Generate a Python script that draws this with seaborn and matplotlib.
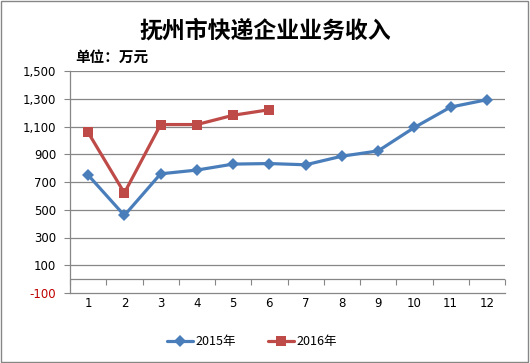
import matplotlib
matplotlib.use("Agg")
import matplotlib.pyplot as plt
import seaborn as sns
import pandas as pd

# data (unit: 万元)
months = list(range(1, 13))
rev_2015 = [750, 459, 759, 786, 829, 833, 824, 886, 924, 1093, 1240, 1293]
months_2016 = list(range(1, 7))
rev_2016 = [1057, 621, 1114, 1114, 1181, 1221]
series_names = ["2015年", "2016年"]
y_ticks = list(range(-100, 1501, 200))

df = pd.concat([
    pd.DataFrame({"month": months, "value": rev_2015, "year": series_names[0]}),
    pd.DataFrame({"month": months_2016, "value": rev_2016, "year": series_names[1]}),
])

sns.set_style("white")
plt.rcParams["font.family"] = ["Noto Sans CJK SC", "DejaVu Sans"]
plt.rcParams["text.color"] = "black"
plt.rcParams["xtick.color"] = "black"
plt.rcParams["ytick.color"] = "black"

grid_col = "#868686"
fig = plt.figure(figsize=(5.30, 3.63), dpi=100)
ax = fig.add_axes([70 / 530, 70 / 363, 435 / 530, 222 / 363])

sns.lineplot(data=df, x="month", y="value", hue="year", style="year",
             markers={"2015年": "D", "2016年": "s"}, dashes=False,
             palette={"2015年": "#4A7EBB", "2016年": "#BE4B48"},
             linewidth=2.3, markersize=6.5, markeredgewidth=0, ax=ax, legend=True)

ax.set_xlim(0.5, 12.5)
ax.set_ylim(-100, 1500)
ax.set_yticks(y_ticks)
ax.set_yticklabels([f"{v:,}" for v in y_ticks], fontsize=8.5,
                   family=["DejaVu Sans"])
ax.get_yticklabels()[0].set_color("#C00000")
ax.set_xticks(months)
ax.set_xticklabels([str(m) for m in months], fontsize=8.5, family=["DejaVu Sans"])
ax.tick_params(axis="x", length=0, pad=3)
ax.tick_params(axis="y", length=4, color=grid_col, direction="out", pad=6, left=True)
ax.set_xlabel("")
ax.set_ylabel("")

for v in y_ticks[1:] + [0]:
    ax.axhline(v, color=grid_col, linewidth=0.9, zorder=0)

for s in ["top", "right"]:
    ax.spines[s].set_visible(False)
for s in ["left", "bottom"]:
    ax.spines[s].set_color(grid_col)
    ax.spines[s].set_linewidth(0.9)

# category axis crossing at zero with boundary tick marks
sec = ax.secondary_xaxis(100 / 1600)
sec.set_xticks([m + 0.5 for m in range(0, 13)])
sec.set_xticklabels([])
sec.tick_params(length=4, color=grid_col, direction="out")
sec.spines["bottom"].set_visible(False)

handles, labels = ax.get_legend_handles_labels()
ax.get_legend().remove()
fig.legend(handles, labels, loc="center", bbox_to_anchor=(0.475, 0.058), ncol=2,
           frameon=False, fontsize=9, handlelength=2.1, columnspacing=2.6,
           handletextpad=0.15)

fig.text(0.5, 0.915, "抚州市快递企业业务收入", ha="center", va="center",
         fontsize=16.5, fontweight="bold", color="black")
fig.text(75 / 530, 1 - 57 / 363, "单位：万元", ha="left", va="center",
         fontsize=10.5, fontweight="bold", color="black")

fig.add_artist(plt.Rectangle((0.002, 0.003), 0.995, 0.993, transform=fig.transFigure,
                             fill=False, edgecolor=grid_col, linewidth=1))

fig.savefig("out.png", dpi=100)
